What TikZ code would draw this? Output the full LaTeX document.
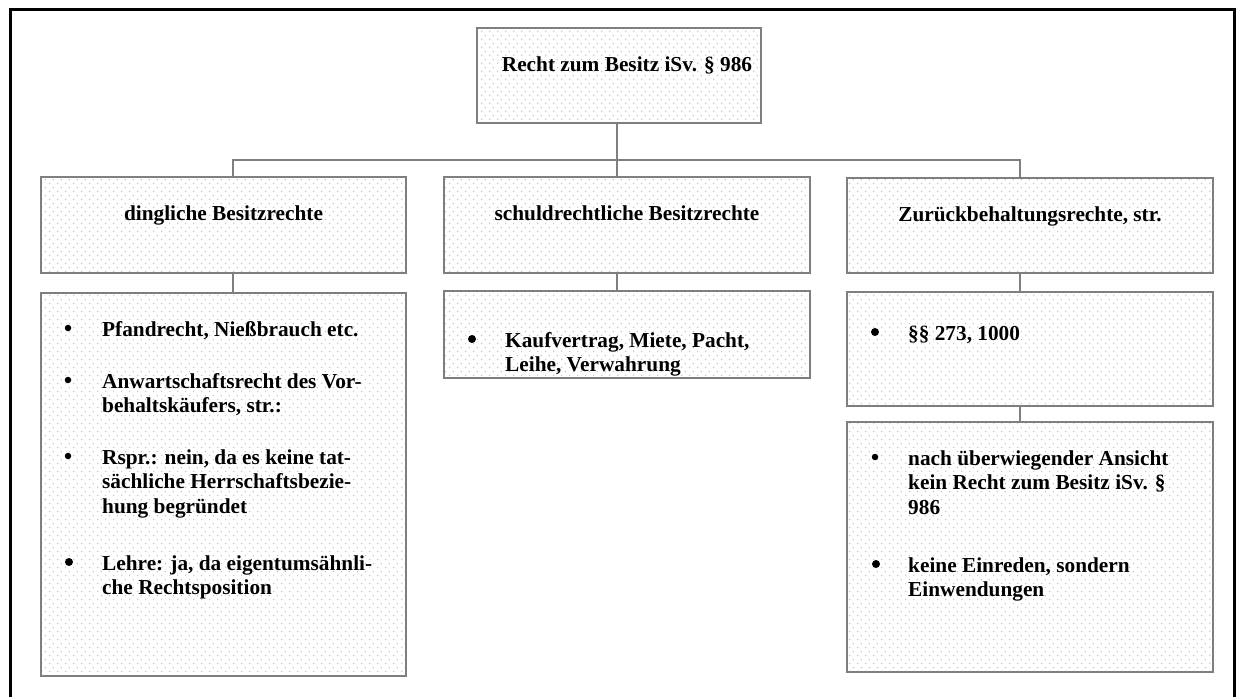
\documentclass[tikz,border=0pt]{standalone}
\usepackage{fontspec}
\setmainfont{Liberation Serif}
\usetikzlibrary{patterns.meta,calc}
\tikzdeclarepattern{
  name=mydots,
  type=uncolored,
  bounding box={(0,0) and (8bp,8bp)},
  tile size={(8bp,8bp)},
  code={
    \pgfpathcircle{\pgfpoint{2bp}{2bp}}{0.8bp}
    \pgfpathcircle{\pgfpoint{6bp}{6bp}}{0.8bp}
    \pgfusepath{fill}
  }
}
\definecolor{boxline}{HTML}{7F7F7F}
\newcommand\mylines[1]{\begin{tabular}[t]{@{}l@{}}#1\end{tabular}}
\begin{document}
\begin{tikzpicture}[x=1bp,y=-1bp,
  box/.style={draw=boxline, line width=2bp, pattern=mydots, pattern color=black!28,
              rectangle, inner sep=0pt},
  conn/.style={draw=boxline, line width=2bp},
  head/.style={anchor=base, inner sep=0pt, font=\fontsize{21.3bp}{24.5bp}\selectfont\bfseries},
  item/.style={anchor=base west, inner sep=0pt,
               font=\fontsize{21.3bp}{24.5bp}\selectfont\bfseries},
  dot/.style={circle, fill=black, inner sep=0pt, minimum size=6.5bp},
  bigdot/.style={circle, fill=black, inner sep=0pt, minimum size=8bp},
]
\useasboundingbox (0,0) rectangle (1236,697);
\begin{scope}
\clip (0,0) rectangle (1236,697);
\draw[line width=3bp] (10,730) -- (10,10) -- (1234,10) -- (1234,730);
\end{scope}

% boxes
\node[box, minimum width=284bp, minimum height=95bp] (top) at (619,75.5) {};
\node[box, minimum width=365bp, minimum height=96bp] (dingl) at (223.5,225) {};
\node[box, minimum width=366bp, minimum height=96bp] (schuld) at (627,225) {};
\node[box, minimum width=366bp, minimum height=95bp] (zur) at (1030,225.5) {};
\node[box, minimum width=365bp, minimum height=383bp] (dinglL) at (223.5,484.5) {};
\node[box, minimum width=366bp, minimum height=87bp] (schuldL) at (627,334.5) {};
\node[box, minimum width=366bp, minimum height=114bp] (zurA) at (1030,349) {};
\node[box, minimum width=366bp, minimum height=250bp] (zurB) at (1030,547) {};

% connectors
\coordinate (cL) at (233,160);
\coordinate (cM) at (617,160);
\coordinate (cR) at (1020,160);
\draw[conn] (top.south -| cM) -- (cM);
\draw[conn] (cL |- dingl.north) -- (cL) -- (cR) -- (cR |- zur.north);
\draw[conn] (cM) -- (cM |- schuld.north);
\draw[conn] (dingl.south -| cL) -- (dinglL.north -| cL);
\draw[conn] (schuld.south -| cM) -- (schuldL.north -| cM);
\draw[conn] (zur.south -| cR) -- (zurA.north -| cR);
\draw[conn] (zurA.south -| cR) -- (zurB.north -| cR);

% headings
\node[head] (tTop) at ($(top.north)+(8,45)$) {Recht zum Besitz iSv. § 986};
\node[head] (tDingl) at ($(dingl.north)+(0,45)$) {dingliche Besitzrechte};
\node[head] (tSchuld) at ($(schuld.north)+(0,45)$) {schuldrechtliche Besitzrechte};
\node[head] (tZur) at ($(zur.north)+(0,45)$) {Zurückbehaltungsrechte, str.};

% left list
\node[dot] (b1) at (68,328) {};
\node[item] (i1) at (102,336) {Pfandrecht, Nießbrauch etc.};
\node[dot] (b2) at (68,380) {};
\node[item] (i2) at (102,388) {\mylines{Anwartschaftsrecht des Vor-\\behaltskäufers, str.:}};
\node[dot] (b3) at (68,456) {};
\node[item] (i3) at (102,464) {\mylines{Rspr.: nein, da es keine tat-\\sächliche Herrschaftsbezie-\\hung begründet}};
\node[bigdot] (b4) at (69,562) {};
\node[item] (i4) at (102,570) {\mylines{Lehre: ja, da eigentumsähnli-\\che Rechtsposition}};

% middle list
\node[bigdot] (b5) at (472,339) {};
\node[item] (i5) at (505,347) {\mylines{Kaufvertrag, Miete, Pacht,\\Leihe, Verwahrung}};

% right lists
\node[bigdot] (b6) at (875,332) {};
\node[item] (i6) at (908,340) {§§ 273, 1000};
\node[dot] (b7) at (875,457) {};
\node[item] (i7) at (908,465) {\mylines{nach überwiegender Ansicht\\kein Recht zum Besitz iSv. §\\986}};
\node[bigdot] (b8) at (876,564) {};
\node[item] (i8) at (908,572) {\mylines{keine Einreden, sondern\\Einwendungen}};
\end{tikzpicture}
\end{document}
